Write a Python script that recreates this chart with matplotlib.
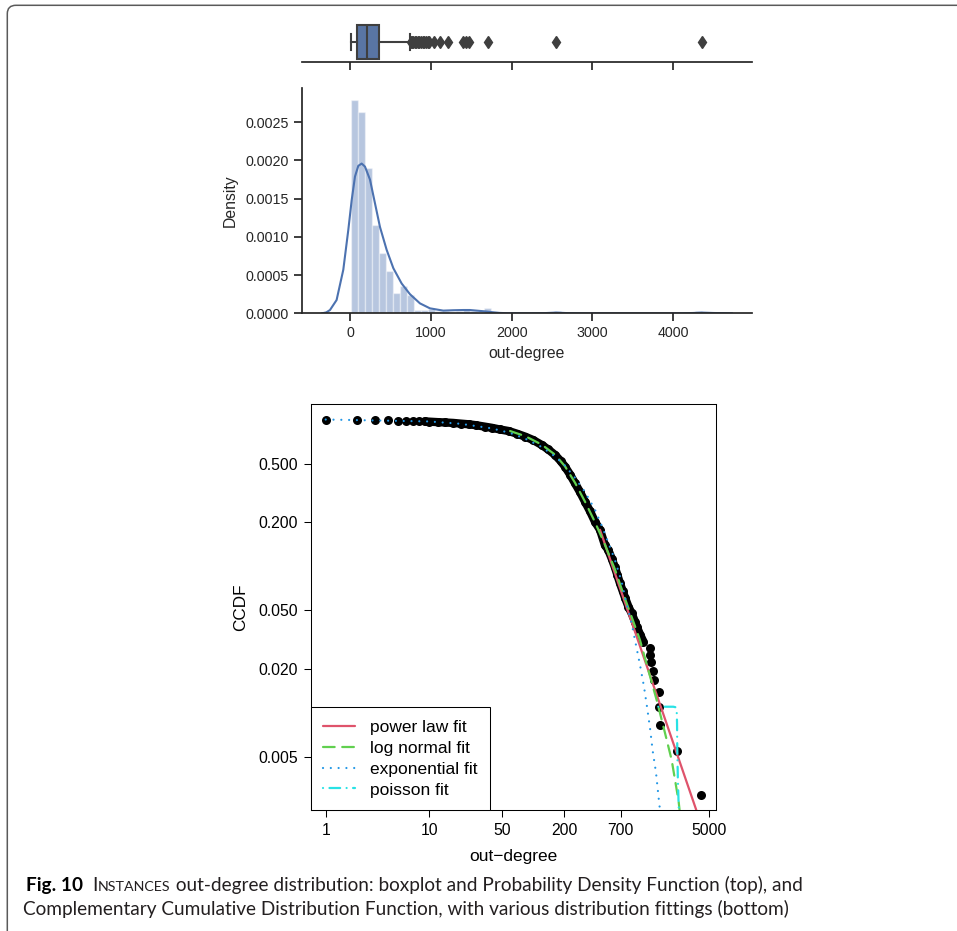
import matplotlib.pyplot as plt
import matplotlib.patches as mpatches
from matplotlib.ticker import NullLocator
import numpy as np

W, H = 957, 931
plt.rcParams['font.family'] = ['Liberation Sans', 'DejaVu Sans']

# --- out-degree boxplot summary (top strip)
box_whislo = 1
box_q1 = 84
box_med = 201
box_q3 = 357
box_whishi = 738
box_fliers = [751, 765, 780, 797, 813, 834, 855, 876, 896, 915, 937, 958, 979,
              1041, 1111, 1214, 1392, 1433, 1475, 1706, 2550, 4361]

# --- histogram (density) with 50 bins
bin_start = 1
bin_width = 87.2
hist_density = [0.00279, 0.00264, 0.00190, 0.00116, 0.00079, 0.00056, 0.00027,
                0.00036, 0.00024, 0.000045, 0.000045, 0.00006, 0.00003, 0.00003,
                0.0, 0.00003, 0.00006, 0.00003, 0.0, 0.000065,
                0, 0, 0, 0, 0, 0, 0, 0, 0, 0.00003,
                0, 0, 0, 0, 0, 0, 0, 0, 0, 0,
                0, 0, 0, 0, 0, 0, 0, 0, 0, 0.00003]

# --- kernel density estimate
kde_x = [-351, -300, -254, -172, -89, -27, 15, 56, 97, 139, 180, 242, 304, 366,
         449, 532, 635, 738, 862, 986, 1151, 1275, 1399, 1480, 1565, 1670, 1772,
         1850, 1950, 2200, 2400, 2550, 2700, 2900, 3500, 4100, 4250, 4361, 4500,
         4731]
kde_y = [0, 0.000012, 0.000043, 0.000174, 0.00057, 0.00109, 0.00148, 0.00179,
         0.00193, 0.00196, 0.00192, 0.00175, 0.00144, 0.00113, 0.00083, 0.00059,
         0.00039, 0.00025, 0.00013, 0.000065, 0.000035, 0.00004, 0.000043,
         0.000043, 0.000035, 0.000025, 0.000013, 0.000005, 0.000001, 0, 0.000002,
         0.000009, 0.000002, 0, 0, 0, 0.000004, 0.000009, 0.000004, 0]

# --- empirical CCDF of out-degree
ccdf_x = [1, 2, 3, 4, 5, 6, 7, 8, 9, 10, 12, 14, 17, 20, 24, 28, 34, 40, 48, 58,
          70, 84, 100, 121, 140, 163, 185, 203, 228, 254, 285, 317, 355, 395, 442,
          493, 531, 575, 616, 650, 689, 730, 770, 830, 893, 961, 1000, 1080, 1160,
          1346, 1346, 1385, 1418, 1450, 1626, 1626, 1663, 2460, 4190]
ccdf_y = [1.0, 0.994, 0.99, 0.987, 0.984, 0.981, 0.978, 0.975, 0.970, 0.967,
          0.960, 0.955, 0.948, 0.938, 0.928, 0.915, 0.895, 0.878, 0.855, 0.835,
          0.80, 0.764, 0.725, 0.671, 0.625, 0.573, 0.52, 0.478, 0.42, 0.367,
          0.318, 0.275, 0.236, 0.201, 0.177, 0.139, 0.129, 0.112, 0.098, 0.087,
          0.0763, 0.068, 0.061, 0.053, 0.0476, 0.0418, 0.0386, 0.034, 0.0305,
          0.0275, 0.0249, 0.0221, 0.0193, 0.0167, 0.0139, 0.0110, 0.00826,
          0.00551, 0.00275]
dense_min, dense_max = 9, 1160

powerlaw_x = [442, 3750]
powerlaw_y = [0.177, 0.00217]

lognormal_x = [60, 84, 121, 163, 203, 254, 317, 395, 493, 616, 770, 893, 1074,
               1291, 1556, 1842, 2171, 2459, 2535, 2600]
lognormal_y = [0.835, 0.77, 0.675, 0.575, 0.48, 0.37, 0.275, 0.20, 0.14, 0.095,
               0.06, 0.045, 0.0313, 0.0196, 0.0122, 0.00762, 0.00476, 0.00282,
               0.00247, 0.0021]

exponential_x = [1, 10, 20, 40, 60, 84, 121, 163, 203, 254, 317, 395, 475, 616,
                 715, 798, 893, 975, 1074, 1173, 1262, 1349, 1423, 1531, 1648, 1700]
exponential_y = [1.0, 0.97, 0.935, 0.87, 0.81, 0.74, 0.65, 0.56, 0.485, 0.40,
                 0.32, 0.243, 0.178, 0.110, 0.078, 0.0552, 0.0407, 0.0298, 0.0212,
                 0.0151, 0.0107, 0.00762, 0.00551, 0.00393, 0.00239, 0.0020]

poisson_x = [1611, 2249, 2380, 2426, 2445, 2459, 2490, 2553]
poisson_y = [0.0110, 0.0110, 0.0109, 0.0104, 0.0085, 0.0056, 0.0035, 0.0020]

fit_labels = ['power law fit', 'log normal fit', 'exponential fit', 'poisson fit']

caption_l1 = ' out-degree distribution: boxplot and Probability Density Function (top), and'
caption_l2 = ('Complementary Cumulative Distribution Function, with various '
              'distribution fittings (bottom)')


def px_axes(fig, left, top, right, bottom):
    return fig.add_axes([left / W, 1 - bottom / H, (right - left) / W, (bottom - top) / H])


fig = plt.figure(figsize=(W / 100, H / 100), dpi=100)

# --- outer frame
frame = mpatches.FancyBboxPatch((7.3 / W, -0.05), 1.1, 1.05 - 5.3 / H,
                                boxstyle='round,pad=0,rounding_size=0.009',
                                transform=fig.transFigure, fill=False,
                                edgecolor='#5a5a5a', lw=1.1)
fig.add_artist(frame)

dark = '#262626'
deep_blue = '#4C72B0'
xlim_top = (-605, 4985)

# --- boxplot
ax_box = px_axes(fig, 301.7, 22.5, 752.3, 61.7)
stats = [dict(med=box_med, q1=box_q1, q3=box_q3, whislo=box_whislo,
              whishi=box_whishi, fliers=box_fliers)]
ax_box.bxp(stats, positions=[0], widths=0.85, vert=False, patch_artist=True,
           boxprops=dict(facecolor='#5975a4', edgecolor='#3f3f3f', lw=1.5),
           medianprops=dict(color='#3f3f3f', lw=1.5),
           whiskerprops=dict(color='#3f3f3f', lw=1.5),
           capprops=dict(color='#3f3f3f', lw=1.5),
           flierprops=dict(marker='d', markerfacecolor='#3f3f3f',
                           markeredgecolor='#3f3f3f', markersize=6.5))
ax_box.set_xlim(*xlim_top)
ax_box.set_ylim(0.5, -0.5)
ax_box.set_yticks([])
ax_box.set_xticks([0, 1000, 2000, 3000, 4000])
ax_box.set_xticklabels([])
for s in ['top', 'right', 'left']:
    ax_box.spines[s].set_visible(False)
ax_box.spines['bottom'].set_color(dark)
ax_box.spines['bottom'].set_linewidth(1.25)
ax_box.tick_params(axis='x', length=6, width=1.25, color=dark)

# --- histogram + kde
ax_h = px_axes(fig, 301.7, 88.3, 752.3, 313.3)
edges = [bin_start + i * bin_width for i in range(len(hist_density))]
ax_h.bar(edges, hist_density, width=bin_width, align='edge', color=deep_blue,
         alpha=0.4, edgecolor='white', lw=1.0)
ax_h.plot(kde_x, kde_y, color=deep_blue, lw=1.5)
ax_h.set_xlim(*xlim_top)
ax_h.set_ylim(0, 0.002945)
ax_h.set_xticks([0, 1000, 2000, 3000, 4000])
ax_h.set_yticks([0, 0.0005, 0.001, 0.0015, 0.002, 0.0025])
ax_h.set_yticklabels(['0.0000', '0.0005', '0.0010', '0.0015', '0.0020', '0.0025'])
for s in ['top', 'right']:
    ax_h.spines[s].set_visible(False)
for s in ['left', 'bottom']:
    ax_h.spines[s].set_color(dark)
    ax_h.spines[s].set_linewidth(1.25)
ax_h.tick_params(length=6, width=1.25, color=dark, labelcolor=dark, labelsize=10.3)
ax_h.set_xlabel('out-degree', fontsize=11.3, color=dark, labelpad=4)
ax_h.set_ylabel('Density', fontsize=11.3, color=dark, labelpad=5)

# --- CCDF with fittings
ax_c = px_axes(fig, 310.7, 404.3, 716, 810)
ax_c.set_xscale('log')
ax_c.set_yscale('log')
cx, cy = np.array(ccdf_x), np.array(ccdf_y)
dense = (cx >= dense_min) & (cx <= dense_max)
ax_c.plot(cx[dense], cy[dense], color='black', lw=6.0, solid_capstyle='round',
          solid_joinstyle='round', zorder=2)
ax_c.plot(cx, cy, 'o', color='black', markersize=6.5, mew=0, zorder=2)
l1, = ax_c.plot(powerlaw_x, powerlaw_y, color='#DF536B', lw=1.6,
                solid_capstyle='round', zorder=3)
l2, = ax_c.plot(lognormal_x, lognormal_y, color='#61D04F', lw=1.6,
                dashes=(5.25, 3.4), dash_capstyle='round', zorder=3)
l3, = ax_c.plot(exponential_x, exponential_y, color='#2297E6', lw=1.6,
                dashes=(0.01, 3.5), dash_capstyle='round', zorder=3)
l4, = ax_c.plot(poisson_x, poisson_y, color='#28E2E5', lw=1.6,
                dashes=(0.01, 2.9, 4.8, 2.9), dash_capstyle='round', zorder=3)
ax_c.set_xlim(0.7166, 5808)
ax_c.set_ylim(0.002173, 1.27)
ax_c.set_xticks([1, 10, 50, 200, 700, 5000])
ax_c.set_xticklabels(['1', '10', '50', '200', '700', '5000'])
ax_c.set_yticks([0.005, 0.02, 0.05, 0.2, 0.5])
ax_c.set_yticklabels(['0.005', '0.020', '0.050', '0.200', '0.500'])
ax_c.xaxis.set_minor_locator(NullLocator())
ax_c.yaxis.set_minor_locator(NullLocator())
for s in ax_c.spines.values():
    s.set_linewidth(0.75)
    s.set_color('black')
ax_c.tick_params(length=5, width=0.75, labelsize=11.3, pad=4.5)
ax_c.set_xlabel('out\u2212degree', fontsize=12.5, labelpad=8)
ax_c.set_ylabel('CCDF', fontsize=12.3, labelpad=7)
leg = ax_c.legend([l1, l2, l3, l4], fit_labels, loc='lower left',
                  bbox_to_anchor=(0, 0), borderaxespad=0, fancybox=False,
                  edgecolor='black', framealpha=1, fontsize=12.5,
                  handlelength=1.85, handletextpad=0.85, borderpad=0.72,
                  labelspacing=0.33)
leg.get_frame().set_linewidth(0.75)

# --- caption
ax_cap = fig.add_axes([0, 0, 1, 1])
ax_cap.axis('off')
cap_font = ['Lato', 'Open Sans', 'DejaVu Sans']
cap_color = '#231f20'
fs = 12.0
t_fig = ax_cap.text(26 / W, 1 - 891 / H, 'Fig. 10', fontsize=fs, fontweight='bold',
                    family=cap_font, color='black', va='baseline', ha='left')
t_i = ax_cap.annotate('I', xy=(1, 1 - 891 / H), xycoords=(t_fig, 'figure fraction'),
                      xytext=(7, 0), textcoords='offset points', fontsize=fs,
                      family=cap_font, color=cap_color, va='baseline', ha='left')
t_sc = ax_cap.annotate('NSTANCES', xy=(1, 1 - 891 / H), xycoords=(t_i, 'figure fraction'),
                       fontsize=fs * 0.75, family=cap_font, color=cap_color,
                       va='baseline', ha='left')
t_rest = ax_cap.annotate(caption_l1, xy=(1, 1 - 891 / H), xycoords=(t_sc, 'figure fraction'),
                         fontsize=fs, family=cap_font, color=cap_color,
                         va='baseline', ha='left')
t_l2 = ax_cap.text(23.3 / W, 1 - 915.5 / H, caption_l2, fontsize=fs, family=cap_font,
                   color=cap_color, va='baseline', ha='left')

# fit caption size to the width of the second line
fig.canvas.draw()
w2 = t_l2.get_window_extent().width
fs = fs * (790 - 23.3) / w2
for t in [t_fig, t_i, t_rest, t_l2]:
    t.set_fontsize(fs)
t_sc.set_fontsize(fs * 0.75)

fig.savefig('out.png', dpi=100)
